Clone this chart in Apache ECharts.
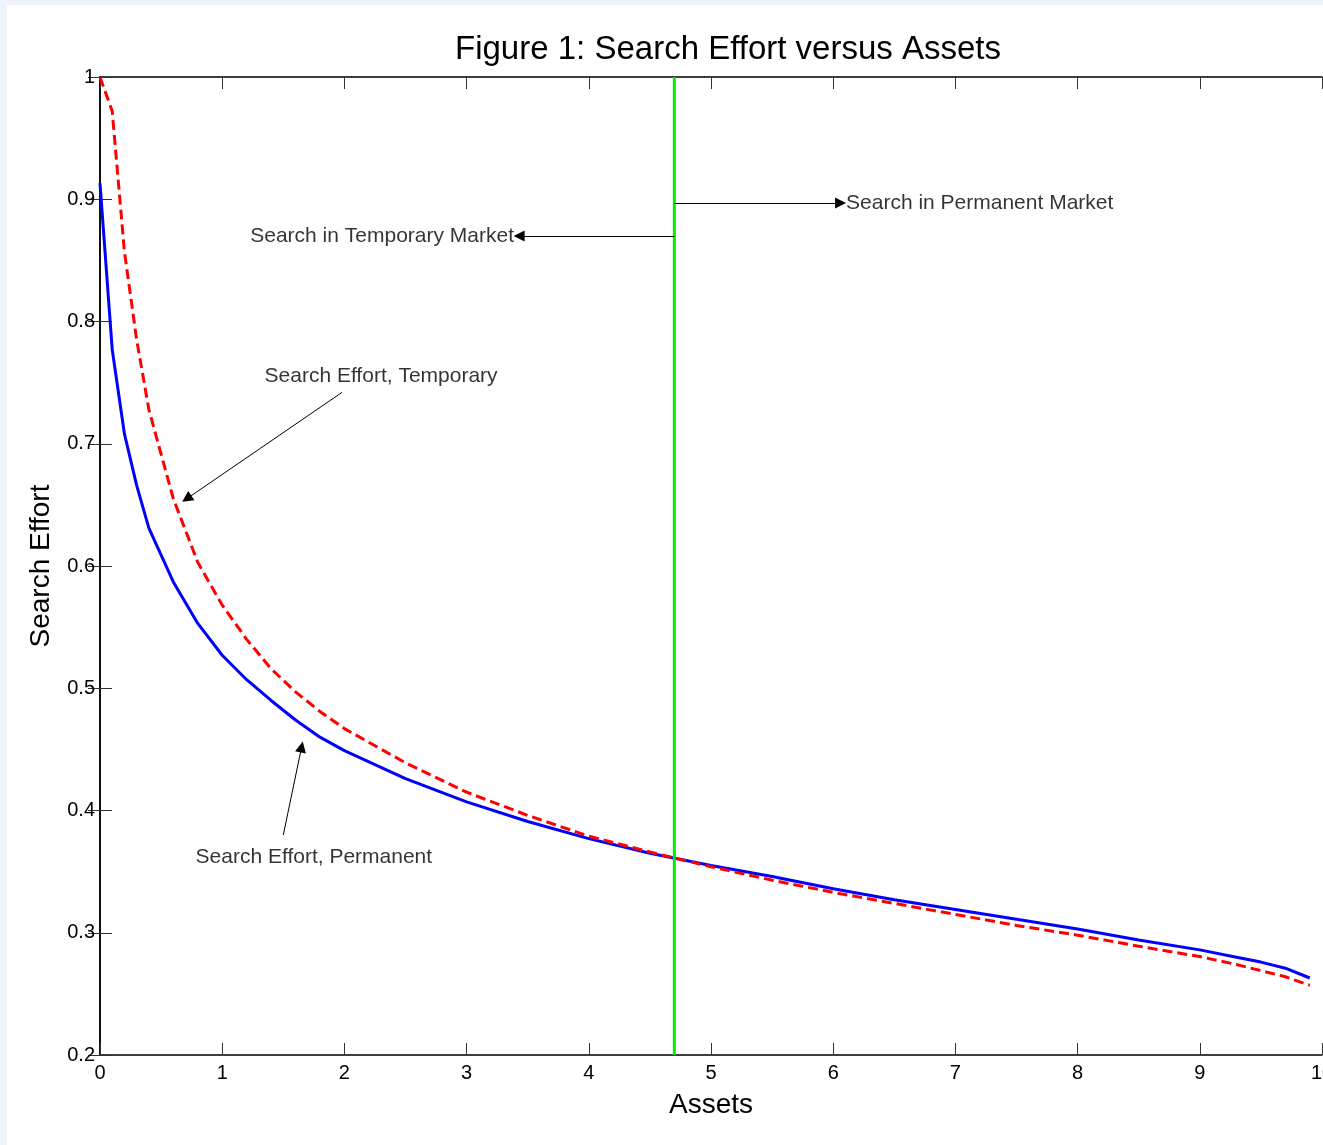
<!DOCTYPE html>
<html>
<head>
<meta charset="utf-8">
<title>Figure 1: Search Effort versus Assets</title>
<script src="https://cdn.jsdelivr.net/npm/echarts@6/dist/echarts.min.js"></script>
<style>
  html, body { margin: 0; padding: 0; background: #eef4fb; }
  #chart { position: absolute; left: 7px; top: 5px; width: 1316px; height: 1140px; background: #fff; }
</style>
</head>
<body>
<div id="chart"></div>
<script>
// assets grid (x) and the two search effort curves
const assets = [0, 0.1, 0.2, 0.3, 0.4, 0.6, 0.8, 1.0, 1.2, 1.4, 1.6, 1.8, 2.0, 2.5, 3.0, 3.5, 4.0, 4.5, 5.0, 5.5, 6.0, 6.5, 7.0, 7.5, 8.0, 8.5, 9.0, 9.3, 9.5, 9.7, 9.9];
const effortPermanent = [0.913, 0.777, 0.708, 0.666, 0.631, 0.587, 0.553, 0.527, 0.507, 0.490, 0.474, 0.460, 0.449, 0.426, 0.407, 0.391, 0.377, 0.365, 0.355, 0.346, 0.336, 0.327, 0.319, 0.311, 0.303, 0.294, 0.286, 0.280, 0.276, 0.271, 0.263];
const effortTemporary = [1.000, 0.972, 0.857, 0.785, 0.728, 0.655, 0.603, 0.568, 0.540, 0.516, 0.497, 0.481, 0.467, 0.439, 0.415, 0.396, 0.379, 0.366, 0.354, 0.343, 0.333, 0.324, 0.315, 0.306, 0.298, 0.289, 0.2805, 0.274, 0.269, 0.264, 0.257];

// asset level where search switches market
const switchAsset = 4.7;

const xTicks = [0, 10, 1];
const yTicks = [0.2, 1, 0.1];

const FONT = '"Liberation Sans", Arial, Helvetica, sans-serif';

const chart = echarts.init(document.getElementById('chart'));

function pairs(xs, ys) {
    return xs.map((x, i) => [x, ys[i]]);
}

const axisLine = { show: true, lineStyle: { color: '#000', width: 1.5 } };
const axisTick = { show: true, inside: true, length: 12, lineStyle: { color: '#333', width: 1 } };

// annotation arrows: [from, to]
const arrows = [
    [[switchAsset, 0.897], [6.06, 0.897]],
    [[switchAsset, 0.870], [3.43, 0.870]],
    [[1.98, 0.742], [0.71, 0.655]],
    [[1.50, 0.380], [1.65, 0.452]]
];
// annotation texts: [x, y, text, align]
const notes = [
    [6.105, 0.897, 'Search in Permanent Market', 'left'],
    [3.388, 0.870, 'Search in Temporary Market', 'right'],
    [2.30, 0.755, 'Search Effort, Temporary', 'center'],
    [1.75, 0.362, 'Search Effort, Permanent', 'center']
];

const option = {
    animation: false,
    backgroundColor: '#fff',
    textStyle: { fontFamily: FONT },
    title: {
        text: 'Figure 1: Search Effort versus Assets',
        left: 716,
        textAlign: 'center',
        top: 23,
        textStyle: { fontSize: 33, fontWeight: 'normal', color: '#000', fontFamily: FONT }
    },
    grid: { left: 93, right: 1, top: 72, bottom: 90, containLabel: false, outerBoundsMode: 'none' },
    xAxis: [
        {
            type: 'value', min: xTicks[0], max: xTicks[1], interval: xTicks[2],
            position: 'bottom',
            name: 'Assets', nameLocation: 'middle', nameGap: 36,
            nameTextStyle: { fontSize: 28, color: '#000', fontFamily: FONT },
            axisLine: axisLine, axisTick: axisTick,
            axisLabel: { fontSize: 20, color: '#000', margin: 8, fontFamily: FONT },
            splitLine: { show: false }
        },
        {
            type: 'value', min: xTicks[0], max: xTicks[1], interval: xTicks[2],
            position: 'top',
            axisLine: axisLine, axisTick: axisTick,
            axisLabel: { show: false },
            splitLine: { show: false }
        }
    ],
    yAxis: [
        {
            type: 'value', min: yTicks[0], max: yTicks[1], interval: yTicks[2],
            position: 'left',
            name: 'Search Effort', nameLocation: 'middle', nameGap: 45,
            nameTextStyle: { fontSize: 28, color: '#000', fontFamily: FONT },
            axisLine: axisLine, axisTick: axisTick,
            axisLabel: { fontSize: 20, color: '#000', margin: 5, fontFamily: FONT },
            splitLine: { show: false }
        },
        {
            type: 'value', min: yTicks[0], max: yTicks[1], interval: yTicks[2],
            position: 'right',
            axisLine: axisLine, axisTick: axisTick,
            axisLabel: { show: false },
            splitLine: { show: false }
        }
    ],
    series: [
        {
            name: 'Search Effort, Permanent',
            type: 'line',
            data: pairs(assets, effortPermanent),
            showSymbol: false,
            lineStyle: { color: '#0000ff', width: 3 },
            z: 3
        },
        {
            name: 'Search Effort, Temporary',
            type: 'line',
            data: pairs(assets, effortTemporary),
            showSymbol: false,
            lineStyle: { color: '#ff0000', width: 3, type: [10, 5] },
            z: 3
        },
        {
            name: 'Market switch',
            type: 'line',
            data: [[switchAsset, yTicks[0]], [switchAsset, yTicks[1]]],
            showSymbol: false,
            lineStyle: { color: '#00ee00', width: 3 },
            z: 4,
            markLine: {
                silent: true,
                symbol: ['none', 'triangle'],
                symbolSize: 11,
                label: { show: false },
                lineStyle: { color: '#000', width: 1, type: 'solid' },
                emphasis: { disabled: true },
                data: arrows.map(a => [{ coord: a[0] }, { coord: a[1] }])
            }
        },
        {
            name: 'Notes',
            type: 'scatter',
            symbolSize: 0,
            silent: true,
            data: notes.map(n => ({
                value: [n[0], n[1]],
                label: {
                    show: true, position: 'inside', align: n[3], verticalAlign: 'middle',
                    formatter: n[2], fontSize: 21, color: '#000', fontFamily: FONT
                }
            })),
            z: 5
        }
    ]
};

chart.setOption(option);
</script>
</body>
</html>
